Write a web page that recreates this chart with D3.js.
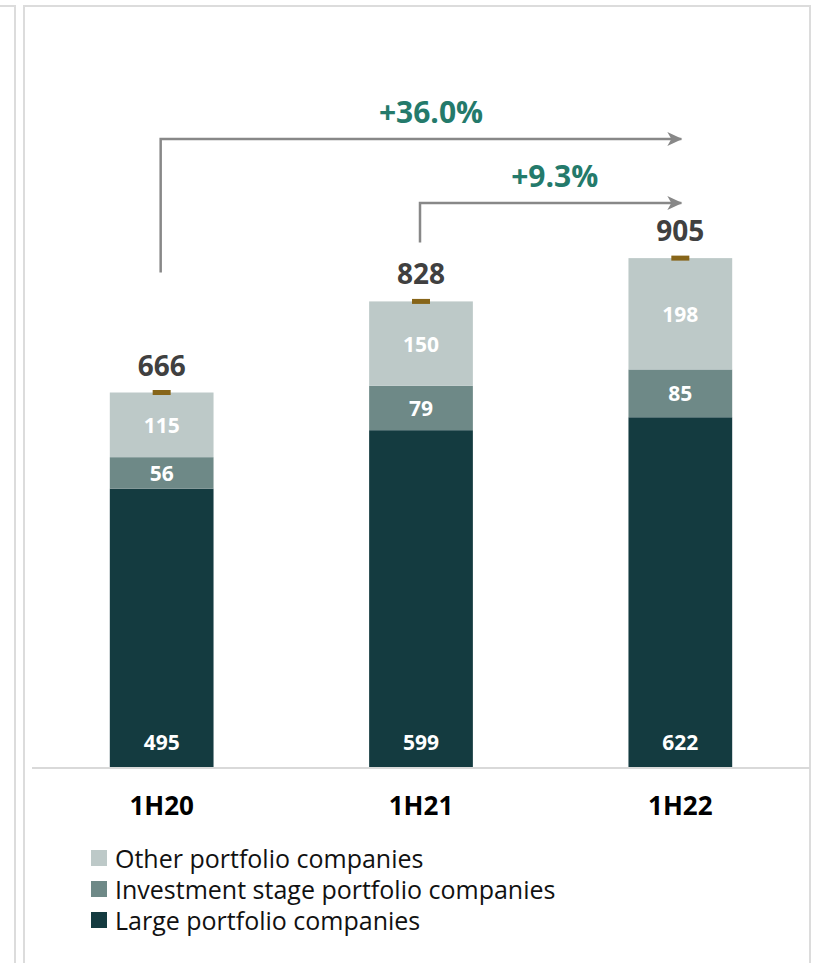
<!DOCTYPE html>
<html>
<head>
<meta charset="utf-8">
<script src="https://cdn.jsdelivr.net/npm/d3@7"></script>
<style>
  html, body { margin: 0; padding: 0; background: #fff; }
  svg { display: block; font-family: "Open Sans", "Noto Sans", sans-serif; }
</style>
</head>
<body>
<svg id="chart" width="818" height="963"></svg>
<script>
// Half-year periods on the x axis
const categories = ["1H20", "1H21", "1H22"];

// Stacked series, bottom to top
const largeValues = [495, 599, 622];
const investmentValues = [56, 79, 85];
const otherValues = [115, 150, 198];

// Totals shown above each stack
const totals = [666, 828, 905];

const seriesNames = [
  "Large portfolio companies",
  "Investment stage portfolio companies",
  "Other portfolio companies"
];

// Growth call-outs: from period -> to period
const growthLabels = ["+36.0%", "+9.3%"];
const growthFrom = ["1H20", "1H21"];
const growthTo = ["1H22", "1H22"];

const colors = {
  "Large portfolio companies": "#143b40",
  "Investment stage portfolio companies": "#6e8987",
  "Other portfolio companies": "#bdc9c8"
};

const svg = d3.select("#chart");

// Panel frames
const frame = "#dcdcdc";
svg.append("path")
  .attr("d", "M0,6 H15 V963")
  .attr("fill", "none").attr("stroke", frame).attr("stroke-width", 2);
svg.append("path")
  .attr("d", "M24,963 V6 H810 V963")
  .attr("fill", "none").attr("stroke", frame).attr("stroke-width", 2);

// Scales
const x = d3.scaleBand()
  .domain(categories)
  .range([32, 810])
  .paddingInner(0.6)
  .paddingOuter(0.3);

const y = d3.scaleLinear()
  .domain([0, 1000])
  .range([767, 767 - 562.3]);

// Stack data
const rows = categories.map((c, i) => ({
  cat: c,
  "Large portfolio companies": largeValues[i],
  "Investment stage portfolio companies": investmentValues[i],
  "Other portfolio companies": otherValues[i]
}));
const stacked = d3.stack().keys(seriesNames)(rows);

const g = svg.append("g");

const layers = g.selectAll("g.layer")
  .data(stacked)
  .join("g")
  .attr("class", "layer")
  .attr("fill", d => colors[d.key]);

layers.selectAll("rect")
  .data(d => d)
  .join("rect")
  .attr("x", d => x(d.data.cat))
  .attr("width", x.bandwidth())
  .attr("y", d => y(d[1]))
  .attr("height", d => y(d[0]) - y(d[1]));

// Segment value labels (bottom segment is labelled near its base)
stacked.forEach((layer, li) => {
  g.selectAll(null)
    .data(layer)
    .join("text")
    .attr("x", d => x(d.data.cat) + x.bandwidth() / 2)
    .attr("y", d => li === 0 ? y(d[0]) - 25 : (y(d[0]) + y(d[1])) / 2)
    .attr("text-anchor", "middle")
    .attr("dominant-baseline", "central")
    .attr("fill", "#ffffff")
    .attr("font-weight", 700)
    .attr("font-size", 21)
    .text(d => d[1] - d[0]);
});

// Axis baseline
svg.append("line")
  .attr("x1", 32).attr("x2", 810)
  .attr("y1", y(0) + 1).attr("y2", y(0) + 1)
  .attr("stroke", "#d9d9d9").attr("stroke-width", 2);

// Category labels
const xAxis = d3.axisBottom(x).tickSize(0).tickPadding(0);
const axisG = svg.append("g")
  .attr("transform", `translate(0, ${y(0) + 30})`)
  .call(xAxis);
axisG.select(".domain").remove();
axisG.selectAll("text")
  .attr("font-size", 26)
  .attr("font-weight", 700)
  .attr("fill", "#000")
  .attr("font-family", "'Open Sans', 'Noto Sans', sans-serif");

// Total markers and labels
categories.forEach((c, i) => {
  const cx = x(c) + x.bandwidth() / 2;
  svg.append("rect")
    .attr("x", cx - 9).attr("width", 18)
    .attr("y", y(totals[i]) - 2.5).attr("height", 5)
    .attr("fill", "#876519");
  svg.append("text")
    .attr("x", cx)
    .attr("y", y(totals[i]) - 17)
    .attr("text-anchor", "middle")
    .attr("fill", "#404040")
    .attr("font-weight", 700)
    .attr("font-size", 28)
    .text(totals[i]);
});

// Growth arrows
const defs = svg.append("defs");
defs.append("marker")
  .attr("id", "arrowHead")
  .attr("viewBox", "0 -8 16 16")
  .attr("refX", 14).attr("refY", 0)
  .attr("markerUnits", "userSpaceOnUse")
  .attr("markerWidth", 16).attr("markerHeight", 16)
  .attr("orient", "auto")
  .append("path")
  .attr("d", "M0,-7 L15,0 L0,7 L4,0 Z")
  .attr("fill", "#888888");

// Arrow rails: horizontal level and the gap between the rail start and the stack top
const arrowLevels = [139, 203];
const arrowStartGap = [120, 59];
const labelShift = [10, 4];

growthLabels.forEach((lbl, i) => {
  const fi = categories.indexOf(growthFrom[i]);
  const x0 = x(growthFrom[i]) + x.bandwidth() / 2 - 1;
  const x1 = x(growthTo[i]) + x.bandwidth() / 2 + 1;
  const yStart = y(totals[fi]) - arrowStartGap[i];
  const yLevel = arrowLevels[i];
  svg.append("path")
    .attr("d", `M${x0},${yStart} V${yLevel} H${x1}`)
    .attr("fill", "none")
    .attr("stroke", "#888888")
    .attr("stroke-width", 2.5)
    .attr("marker-end", "url(#arrowHead)");
  svg.append("text")
    .attr("x", (x0 + x1) / 2 + labelShift[i])
    .attr("y", yLevel - 28)
    .attr("text-anchor", "middle")
    .attr("dominant-baseline", "central")
    .attr("fill", "#247a6b")
    .attr("font-weight", 700)
    .attr("font-size", 30)
    .text(lbl);
});

// Legend (top entry is the top of the stack)
const legendItems = seriesNames.slice().reverse();
const legend = svg.append("g").attr("transform", "translate(91, 858)");
legendItems.forEach((name, i) => {
  const row = legend.append("g").attr("transform", `translate(0, ${i * 31})`);
  row.append("rect")
    .attr("x", 0).attr("y", -8)
    .attr("width", 16).attr("height", 16)
    .attr("fill", colors[name]);
  row.append("text")
    .attr("x", 24).attr("y", 0)
    .attr("dominant-baseline", "central")
    .attr("fill", "#111")
    .attr("font-size", 25)
    .text(name);
});
</script>
</body>
</html>
